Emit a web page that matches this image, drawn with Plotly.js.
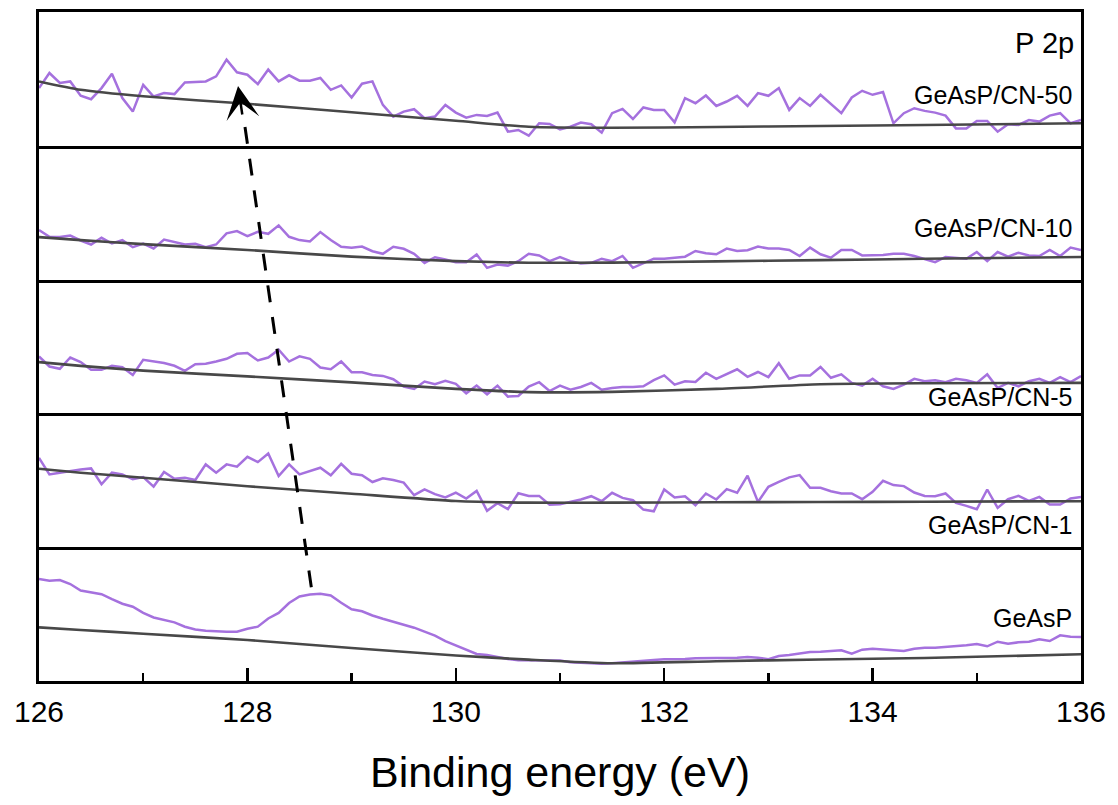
<!DOCTYPE html>
<html><head><meta charset="utf-8">
<script src="https://cdn.plot.ly/plotly-3.0.1.min.js"></script>
<style>html,body{margin:0;padding:0;background:#fff}</style>
</head><body>
<div id="chart" style="width:1118px;height:805px"></div>
<script>
// Binding energy grid (eV)
const energy = [
126.0,126.1,126.2,126.3,126.4,126.5,126.6,126.7,126.8,126.9,
127.0,127.1,127.2,127.3,127.4,127.5,127.6,127.7,127.8,127.9,
128.0,128.1,128.2,128.3,128.4,128.5,128.6,128.7,128.8,128.9,
129.0,129.1,129.2,129.3,129.4,129.5,129.6,129.7,129.8,129.9,
130.0,130.1,130.2,130.3,130.4,130.5,130.6,130.7,130.8,130.9,
131.0,131.1,131.2,131.3,131.4,131.5,131.6,131.7,131.8,131.9,
132.0,132.1,132.2,132.3,132.4,132.5,132.6,132.7,132.8,132.9,
133.0,133.1,133.2,133.3,133.4,133.5,133.6,133.7,133.8,133.9,
134.0,134.1,134.2,134.3,134.4,134.5,134.6,134.7,134.8,134.9,
135.0,135.1,135.2,135.3,135.4,135.5,135.6,135.7,135.8,135.9,
136.0];

const sampleNames = ["GeAsP/CN-50", "GeAsP/CN-10", "GeAsP/CN-5", "GeAsP/CN-1", "GeAsP"];

// Intensity (a.u.) of each spectrum
const cn50 = [
57.7,72.8,62.8,64.4,50.0,46.6,57.7,72.1,47.7,34.2,61.0,
49.3,52.7,51.7,63.4,63.8,64.4,69.5,86.2,73.5,71.1,
61.7,76.2,64.4,70.5,65.1,65.1,67.8,56.0,60.4,48.3,
62.1,64.4,40.9,29.2,34.2,36.6,27.5,29.2,40.9,33.2,
28.2,30.9,29.9,33.2,14.1,15.8,10.1,22.5,21.8,16.4,
19.1,23.2,21.5,13.1,32.6,36.9,26.8,38.3,35.9,35.9,
23.5,47.7,42.6,50.3,39.9,44.3,50.0,39.9,52.7,50.0,
57.7,35.9,47.7,39.9,51.0,41.6,32.6,48.3,55.0,51.0,
53.7,22.5,32.6,37.6,34.9,33.2,30.2,17.4,17.4,24.8,
24.8,14.1,21.5,20.8,25.8,24.2,30.2,32.6,22.5,25.8];

const cn10 = [
49.5,42.8,42.5,44.1,39.1,35.1,41.8,36.1,39.5,32.4,36.1,
31.1,40.1,37.5,35.1,35.8,32.4,35.1,46.2,48.5,43.5,
47.8,45.8,54.2,42.8,39.5,38.1,47.5,39.5,32.8,31.8,
33.1,28.4,25.8,32.8,30.8,25.8,16.7,22.4,20.1,17.4,
17.4,25.1,11.7,15.1,14.0,18.4,25.8,24.1,18.4,22.4,
18.5,16.2,16.8,20.9,18.5,23.6,11.8,16.2,20.9,20.9,
21.9,22.9,28.6,26.3,25.3,31.0,28.6,29.3,33.0,31.0,
31.0,29.6,23.6,32.0,25.3,21.9,29.6,29.6,24.2,24.2,
24.6,25.9,25.9,23.6,20.2,17.5,22.6,21.9,20.9,27.6,
18.5,27.6,22.9,26.9,24.2,23.6,29.6,23.6,32.0,29.6];

const cn5 = [
57.0,46.9,44.6,55.9,51.3,43.6,43.6,47.6,46.2,38.5,53.6,
51.9,50.3,47.6,42.5,49.2,49.6,51.9,54.6,59.6,60.3,
52.9,55.9,63.7,51.9,57.0,54.6,45.9,44.2,51.9,41.2,
41.2,38.5,37.5,34.2,26.8,24.5,31.8,29.1,32.5,29.5,
20.1,27.8,19.1,27.8,16.8,17.4,26.8,31.2,22.4,27.8,
23.7,26.4,30.5,23.7,25.4,26.4,26.4,27.1,33.2,38.0,
28.8,32.2,31.5,40.7,34.6,39.0,44.1,36.6,41.4,36.3,
50.2,34.6,38.0,38.0,46.4,35.6,39.0,30.5,27.8,34.6,
27.1,24.4,28.8,34.6,32.2,33.2,31.2,34.6,33.2,30.5,
39.0,25.4,30.5,27.1,32.2,34.6,30.5,36.3,31.2,37.3];

const cn1 = [
89.4,72.8,74.5,76.2,77.8,78.8,62.9,74.5,72.8,67.9,70.2,
60.6,75.2,68.5,69.5,67.2,82.8,74.5,82.8,80.5,90.4,
85.1,93.7,71.2,82.8,72.8,76.2,79.5,71.9,83.4,73.5,
71.9,65.2,68.9,67.2,64.6,52.0,57.9,53.0,49.7,54.6,
48.7,56.3,36.4,44.0,38.1,54.0,51.3,51.3,42.4,43.0,
45.3,47.7,51.0,46.0,54.4,49.3,47.0,37.6,35.9,57.7,
49.7,51.0,41.9,53.7,47.7,58.1,54.4,71.5,45.3,60.4,
65.4,69.8,72.1,59.4,59.4,56.0,53.7,53.7,48.0,55.4,
66.4,62.1,61.1,54.7,51.3,51.0,53.7,44.3,41.3,37.9,
57.7,39.3,48.0,51.3,46.3,50.3,42.6,42.6,48.7,50.3];

const geasp = [
102.0,100.3,101.0,97.0,90.5,88.5,86.8,81.9,77.3,74.3,68.1,
63.5,60.9,58.6,54.3,51.6,50.3,49.7,49.3,49.3,52.3,
54.3,62.5,68.1,78.0,84.5,86.5,87.2,85.5,78.3,71.7,
69.7,65.5,62.2,59.2,56.3,53.3,49.3,45.4,39.8,35.5,
31.3,27.0,26.0,23.7,22.0,20.7,20.7,20.7,20.7,20.5,
18.7,18.0,17.7,17.3,17.7,18.7,19.7,20.7,21.0,21.7,
21.7,22.0,22.7,22.7,23.0,23.3,23.3,24.0,23.3,21.7,
25.0,26.0,27.3,29.0,29.3,30.0,30.7,27.3,31.3,32.3,
31.7,30.7,30.0,32.3,33.3,33.3,34.0,34.7,35.7,37.0,
34.7,39.3,37.3,38.7,39.3,41.7,40.0,45.7,44.3,44.0];

// Background (baseline) curves
const bgEnergy = [126.0,126.4,127.0,128.0,129.0,130.0,130.7,131.5,132.5,133.5,134.5,136.0];
const bgCN50  = [64.4,56.0,49.5,42.0,33.5,25.0,19.0,18.0,18.8,19.8,20.8,22.5];
const bgCN10  = [42.5,39.5,35.5,29.6,23.0,18.5,16.8,17.0,18.2,19.5,20.8,22.6];
const bgCN5   = [51.3,47.5,42.8,37.0,31.0,24.5,21.3,21.5,24.5,29.2,30.2,30.5];
const bgCN1   = [78.5,74.5,69.5,61.0,53.5,46.2,44.6,44.6,44.9,45.2,45.5,46.0];
const bgGeAsP = [53.6,51.0,47.3,41.0,33.0,25.5,21.4,17.8,19.8,21.5,23.0,26.7];

const spectra = [cn50, cn10, cn5, cn1, geasp];
const backgrounds = [bgCN50, bgCN10, bgCN5, bgCN1, bgGeAsP];

const xTickVals = [126, 128, 130, 132, 134, 136];
const xTickText = ["126", "128", "130", "132", "134", "136"];
const xMinorVals = [127, 129, 131, 133, 135];

const FONT = 'Liberation Sans, Arial, sans-serif';
const nP = spectra.length;
const traces = [];
const layout = {
  width: 1118, height: 805,
  margin: {l: 39, r: 37, t: 12, b: 124},
  showlegend: false,
  paper_bgcolor: '#ffffff', plot_bgcolor: '#ffffff',
  font: {family: FONT, color: '#000000'},
  annotations: [], shapes: []
};

// label vertical positions (paper fraction)
const labelY = [0.876, 0.677, 0.4245, 0.2332, 0.0942];

for (let p = 0; p < nP; p++) {
  const s = p === 0 ? '' : String(p + 1);
  traces.push({
    x: energy, y: spectra[p], xaxis: 'x' + s, yaxis: 'y' + s,
    mode: 'lines', line: {color: '#a571de', width: 2.5}, hoverinfo: 'skip'
  });
  traces.push({
    x: bgEnergy, y: backgrounds[p], xaxis: 'x' + s, yaxis: 'y' + s,
    mode: 'lines', line: {color: '#484848', width: 2.6, shape: 'spline', smoothing: 0.6}, hoverinfo: 'skip'
  });
  const isBottom = p === nP - 1;
  const xa = {
    domain: [0, 1], range: [126, 136], anchor: 'y' + s,
    showline: true, mirror: p === 0, linewidth: 3, linecolor: '#000000',
    showgrid: false, zeroline: false, fixedrange: true,
    ticks: '', showticklabels: false
  };
  if (isBottom) {
    Object.assign(xa, {
      ticks: 'inside', tickmode: 'array', tickvals: xTickVals, ticktext: xTickText,
      ticklen: 13, tickwidth: 2.5, tickcolor: '#000000',
      showticklabels: true, tickfont: {family: FONT, size: 30, color: '#000000'},
      ticklabelstandoff: 2,
      minor: {tickmode: 'array', tickvals: xMinorVals, ticks: 'inside', ticklen: 8, tickwidth: 2.5, tickcolor: '#000000', showgrid: false},
      title: {text: 'Binding energy (eV)', font: {family: FONT, size: 43, color: '#000000'}, standoff: 30}
    });
  }
  layout['xaxis' + s] = xa;
  layout['yaxis' + s] = {
    domain: [1 - (p + 1) / nP, 1 - p / nP], range: [0, 133.8], anchor: 'x' + s,
    showline: true, mirror: true, linewidth: 3, linecolor: '#000000',
    showgrid: false, zeroline: false, ticks: '', showticklabels: false, fixedrange: true
  };
  layout.annotations.push({
    xref: 'paper', yref: 'paper', x: 0.9935, y: labelY[p], xanchor: 'right', yanchor: 'middle',
    text: sampleNames[p], showarrow: false, font: {family: FONT, size: 25, color: '#000000'}
  });
}

layout.annotations.push({
  xref: 'paper', yref: 'paper', x: 0.9955, y: 0.9537, xanchor: 'right', yanchor: 'middle',
  text: 'P 2p', showarrow: false, font: {family: FONT, size: 29, color: '#000000'}
});

// dashed arrow showing the peak shift
layout.shapes.push({
  type: 'line', xref: 'x5', yref: 'paper',
  x0: 127.977, y0: 0.8281, x1: 128.62, y1: 0.133,
  line: {color: '#000000', width: 3, dash: '17px,15px'}
});
layout.annotations.push({
  xref: 'x5', yref: 'paper', x: 127.91, y: 0.8894,
  axref: 'pixel', ayref: 'pixel', ax: 4.5, ay: 30,
  showarrow: true, arrowhead: 3, arrowsize: 2.2, arrowwidth: 2.5, arrowcolor: '#000000',
  text: '', standoff: 0
});

Plotly.newPlot('chart', traces, layout, {displayModeBar: false, staticPlot: true});
</script>
</body></html>
